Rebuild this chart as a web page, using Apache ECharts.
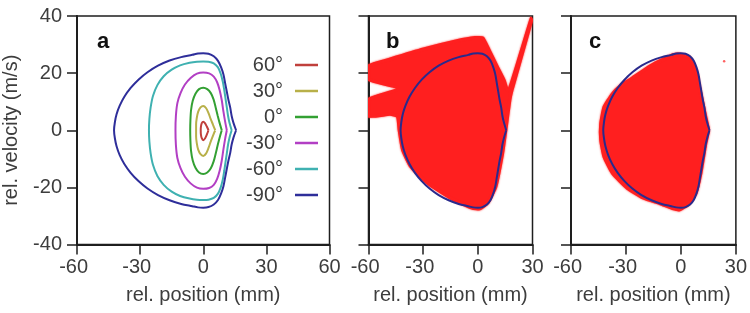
<!DOCTYPE html>
<html><head><meta charset="utf-8">
<script src="https://cdn.jsdelivr.net/npm/echarts@6/dist/echarts.min.js"></script>
<style>html,body{margin:0;padding:0;background:#fff}#c{width:750px;height:313px}</style>
</head><body><div id="c"></div>
<script>
// ---------- data ----------
const legendNames = ['60°', '30°', '0°', '-30°', '-60°', '-90°'];
const xLabelsA = [-60, -30, 0, 30, 60];
const xLabelsBC = [-60, -30, 0, 30];
const yLabels = [-40, -20, 0, 20, 40];

const curve60 = [[2.5,0],[1.7,1.3],[0.8,2.5],[0,3.0],[-0.7,2.5],[-1.1,1.3],[-1.2,0],[-1.1,-1.5],[-0.7,-2.8],[0,-3.5],[0.9,-2.8],[1.7,-1.5],[2.5,0]];
const curve30 = [[5.7,0],[4.6,2.0],[3.5,4.0],[2.5,6.0],[1.3,7.8],[0,8.5],[-1.3,8.0],[-2.4,6.5],[-3.1,4.2],[-3.4,2.0],[-3.4,0],[-3.4,-2.1],[-3.1,-4.4],[-2.4,-6.8],[-1.3,-8.4],[0,-9.0],[1.3,-8.2],[2.5,-6.2],[3.5,-4.1],[4.6,-2.0],[5.7,0]];
const curve0 = [[8.8,0],[7.8,2.5],[6.9,5.0],[5.9,8.0],[4.9,10.8],[3.6,13.0],[1.9,14.4],[0,14.9],[-2.0,14.4],[-3.7,12.8],[-5.0,10.3],[-5.8,7.0],[-6.1,3.5],[-6.2,0],[-6.1,-3.6],[-5.8,-7.2],[-5.0,-10.6],[-3.7,-13.1],[-2.0,-14.8],[0,-15.3],[1.9,-14.8],[3.6,-13.3],[4.9,-11.0],[5.9,-8.2],[6.9,-5.1],[7.8,-2.5],[8.8,0]];
const curveM30 = [[11.2,0],[10.4,3.0],[9.6,6.5],[8.8,10.5],[7.8,14.0],[6.6,16.8],[5.0,18.8],[2.8,19.9],[0,20.2],[-3.0,19.8],[-6.0,18.3],[-8.7,16.0],[-10.8,13.0],[-12.3,9.5],[-13.0,5.0],[-13.2,0],[-13.0,-5.1],[-12.3,-9.7],[-10.8,-13.3],[-8.7,-16.3],[-6.0,-18.6],[-3.0,-20.1],[0,-20.5],[2.8,-20.2],[5.0,-19.1],[6.6,-17.0],[7.8,-14.2],[8.8,-10.6],[9.6,-6.6],[10.4,-3.0],[11.2,0]];
const curveM60 = [[13.5,0],[12.5,2.5],[11.8,5.0],[11.2,8.0],[10.6,11.0],[10.0,14.0],[9.3,17.0],[8.3,19.8],[7.0,22.0],[5.0,23.4],[2.5,24.0],[0,24.1],[-3.0,24.0],[-6.5,23.6],[-11.0,22.7],[-15.0,21.2],[-18.8,18.9],[-21.8,15.8],[-23.9,12.0],[-25.0,8.0],[-25.6,4.0],[-25.8,0],[-25.6,-4.0],[-25.0,-8.1],[-23.9,-12.1],[-21.8,-16.0],[-18.8,-19.1],[-15.0,-21.5],[-11.0,-23.0],[-6.5,-23.9],[-3.0,-24.3],[0,-24.4],[2.5,-24.3],[5.0,-23.7],[7.0,-22.2],[8.3,-20.0],[9.3,-17.2],[10.0,-14.1],[10.6,-11.1],[11.2,-8.1],[11.8,-5.0],[12.5,-2.5],[13.5,0]];
const curveM90 = [[15.6,0],[14.4,2.5],[13.5,5.0],[12.8,8.0],[12.0,10.5],[11.2,13.5],[10.4,16.5],[9.6,19.5],[8.5,22.0],[7.0,24.3],[5.0,25.9],[2.5,26.8],[0,27.0],[-2.5,26.9],[-5.2,26.4],[-10.5,25.6],[-16.0,24.4],[-21.5,22.6],[-26.5,20.3],[-30.8,17.7],[-34.5,14.8],[-37.5,11.7],[-39.7,8.6],[-41.2,5.6],[-42.0,2.8],[-42.4,0],[-42.0,-2.8],[-41.2,-5.6],[-39.7,-8.7],[-37.5,-11.8],[-34.5,-14.9],[-30.8,-17.8],[-26.5,-20.4],[-21.5,-22.7],[-16.0,-24.5],[-10.5,-25.8],[-5.2,-26.6],[-2.5,-27.0],[0,-27.1],[2.5,-26.9],[5.0,-26.0],[7.0,-24.4],[8.5,-22.1],[9.6,-19.6],[10.4,-16.6],[11.2,-13.5],[12.0,-10.5],[12.8,-8.0],[13.5,-5.0],[14.4,-2.5],[15.6,0]];

// outline of the red particle cloud in panel b
const cloudB = [[-60,22.8],[-48.2,25.2],[-29.9,28.7],[-11.6,31.6],[-1.6,32.7],[3.0,32.5],[6.7,28.1],[11.2,22.2],[14.9,17.5],[16.7,14.3],[29.0,39.5],[30.0,38.6],[19.1,13.8],[18.0,10.5],[15.8,0],[14.0,-8.2],[10.3,-19.9],[5.7,-25.7],[1.2,-27.8],[-3.4,-27.5],[-15.3,-24.0],[-28.0,-18.7],[-37.2,-12.9],[-41.7,-7.0],[-43.6,0],[-44.5,4.7],[-48.2,5.3],[-60,4.7],[-60,11.1],[-44.5,14.6],[-60,17.5]];
// outline of the red particle cloud in panel c
const cloudC = [[-0.5,26.9],[4.9,25.7],[8.6,21.1],[11.3,12.9],[14.0,4.7],[15.5,0],[14.0,-4.7],[11.3,-15.2],[8.6,-22.2],[4.0,-26.3],[-0.5,-28.1],[-4.2,-27.8],[-11.4,-26.0],[-20.6,-24.0],[-29.6,-20.5],[-37.8,-15.2],[-42.4,-9.4],[-44.2,-3.5],[-44.2,2.4],[-42.4,8.2],[-37.8,12.9],[-33.3,15.8],[-27.8,18.1],[-16.9,22.8],[-9.6,25.2],[-4.2,26.7]];
const strayC = [[23.6,24.2]];

// ---------- styles ----------
const curveColors = ['#c0403c', '#b8b049', '#33a033', '#b23fc4', '#3fb1b1', '#2e2e9a'];
const FONT = 'Liberation Sans, Arial, sans-serif';
const TXT = '#3d3d3d';
const AX = '#1e1e1e';
const RED = '#ff1f1f';

const curves = [curve60, curve30, curve0, curveM30, curveM60, curveM90];

const chart = echarts.init(document.getElementById('c'), null, {renderer: 'canvas'});

const grids = [
  {left: 75.5, top: 16, width: 254, height: 228.5},
  {left: 368.5, top: 16, width: 164, height: 228.5},
  {left: 571, top: 16, width: 165, height: 228.5}
].map(g => Object.assign(g, {show: true, borderColor: AX, borderWidth: 1.5, containLabel: false}));

function xAxisCfg(gi, maxV) {
  return {
    gridIndex: gi, type: 'value', min: -60, max: maxV, interval: 30,
    name: 'rel. position (mm)', nameLocation: 'middle', nameGap: 41,
    nameTextStyle: {fontSize: 20, color: TXT, fontFamily: FONT},
    axisLine: {show: true, onZero: false, lineStyle: {color: AX, width: 2}},
    axisTick: {show: true, length: 10, lineStyle: {color: AX, width: 1.5}},
    splitLine: {show: false},
    axisLabel: {
      margin: 13, fontSize: 20, color: TXT, fontFamily: FONT, showMinLabel: true, showMaxLabel: true,
      formatter: v => (v < 0 ? '{n|' + v + '}' : '{p|' + v + '}'),
      rich: {
        n: {fontSize: 20, color: TXT, fontFamily: FONT, padding: [0, 6.7, 0, 0]},
        p: {fontSize: 20, color: TXT, fontFamily: FONT}
      }
    }
  };
}
function yAxisCfg(gi, withLabels) {
  return {
    gridIndex: gi, type: 'value', min: -40, max: 40, interval: 20,
    name: withLabels ? 'rel. velocity (m/s)' : '', nameLocation: 'middle', nameGap: 56,
    nameTextStyle: {fontSize: 20, color: TXT, fontFamily: FONT},
    axisLine: {show: true, onZero: false, lineStyle: {color: AX, width: 2}},
    axisTick: {show: true, length: 10, lineStyle: {color: AX, width: 1.5}},
    splitLine: {show: false},
    axisLabel: {show: withLabels, margin: 15, fontSize: 20, color: TXT, fontFamily: FONT}
  };
}

function polyRender(points, color) {
  return function (params, api) {
    if (params.dataIndex !== 0) return null;
    return {
      type: 'polygon',
      shape: {points: points.map(p => api.coord(p)), smooth: 0.15},
      style: {fill: color, stroke: color, lineWidth: 1.5, shadowBlur: 2, shadowColor: 'rgba(255,40,40,0.8)'}
    };
  };
}

const series = [];
curves.forEach((c, i) => {
  series.push({
    name: legendNames[i], type: 'line', xAxisIndex: 0, yAxisIndex: 0,
    data: c, showSymbol: false, smooth: 0.3, silent: true,
    lineStyle: {color: curveColors[i], width: 2}, itemStyle: {color: curveColors[i]}
  });
});
series.push({type: 'custom', xAxisIndex: 1, yAxisIndex: 1, data: cloudB, clip: true,
  renderItem: polyRender(cloudB, RED), silent: true, z: 1});
series.push({type: 'custom', xAxisIndex: 2, yAxisIndex: 2, data: cloudC, clip: true,
  renderItem: polyRender(cloudC, RED), silent: true, z: 1});
series.push({type: 'scatter', xAxisIndex: 2, yAxisIndex: 2, data: strayC, symbolSize: 2.5,
  itemStyle: {color: '#ff3a3a'}, silent: true, z: 2});
series.push({type: 'line', xAxisIndex: 1, yAxisIndex: 1, data: curveM90, showSymbol: false, smooth: 0.3,
  lineStyle: {color: '#2a2a8c', width: 2}, silent: true, z: 3});
series.push({type: 'line', xAxisIndex: 2, yAxisIndex: 2, data: curveM90, showSymbol: false, smooth: 0.3,
  lineStyle: {color: '#2a2a8c', width: 2}, silent: true, z: 3});

chart.setOption({
  animation: false,
  backgroundColor: '#ffffff',
  grid: grids,
  xAxis: [xAxisCfg(0, 60), xAxisCfg(1, 30), xAxisCfg(2, 30)],
  yAxis: [yAxisCfg(0, true), yAxisCfg(1, false), yAxisCfg(2, false)],
  legend: {
    data: legendNames, orient: 'vertical', align: 'right', right: 427, top: 50,
    icon: 'rect', itemWidth: 23, itemHeight: 2.5, itemGap: 6,
    textStyle: {fontSize: 20, color: TXT, fontFamily: FONT, padding: [0, 7, 0, 0]},
    selectedMode: false
  },
  graphic: [
    {type: 'text', left: 97, top: 31, style: {text: 'a', font: 'bold 22px ' + FONT, fill: '#111'}},
    {type: 'text', left: 386, top: 31, style: {text: 'b', font: 'bold 22px ' + FONT, fill: '#111'}},
    {type: 'text', left: 589, top: 31, style: {text: 'c', font: 'bold 22px ' + FONT, fill: '#111'}}
  ],
  series: series
});
</script></body></html>
